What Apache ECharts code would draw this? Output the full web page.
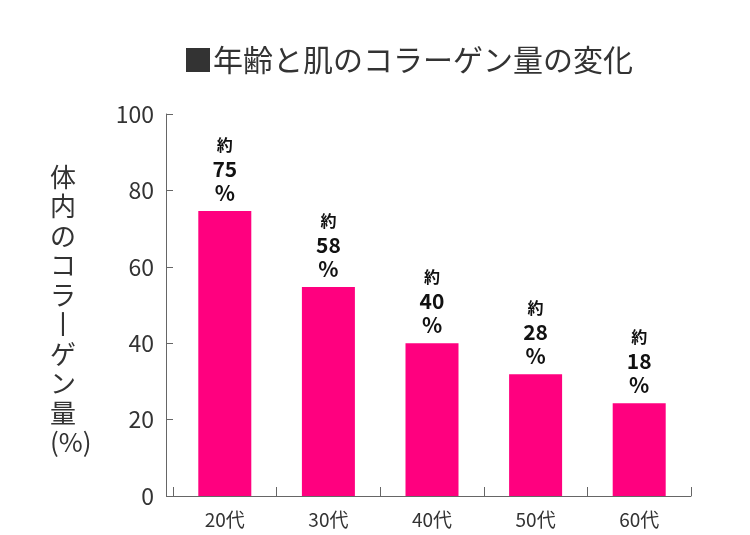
<!DOCTYPE html>
<html>
<head>
<meta charset="utf-8">
<script src="https://cdn.jsdelivr.net/npm/echarts@6/dist/echarts.min.js"></script>
<style>html,body{margin:0;background:#fff}#main{width:750px;height:535px}</style>
</head>
<body>
<div id="main"></div>
<script>
// data
const categories = ['20代', '30代', '40代', '50代', '60代']
const barValues = [74.6, 54.7, 40, 31.9, 24.3]
const barLabels = ['75', '58', '40', '28', '18']
const yTicks = [0, 20, 40, 60, 80, 100]

const font = '"Noto Sans CJK JP", sans-serif'
const chart = echarts.init(document.getElementById('main'))

chart.setOption({
    animation: false,
    title: {
        text: '■年齢と肌のコラーゲン量の変化',
        left: 403, top: 40, textAlign: 'center',
        textStyle: { fontFamily: font, fontSize: 30, fontWeight: 'normal', color: '#333' }
    },
    graphic: [{
        type: 'text', left: 50, top: 162,
        style: {
            text: '体\n内\nの\nコ\nラ\n丨\nゲ\nン\n量\n(%)',
            font: '26px ' + font, fill: '#333', lineHeight: 29.5, align: 'center', width: 50
        }
    }],
    grid: { left: 173, right: 59, top: 114, bottom: 39 },
    xAxis: {
        type: 'category', data: categories,
        axisLine: { lineStyle: { color: '#666' } },
        axisTick: { show: true, inside: true, length: 9, lineStyle: { color: '#666' } },
        axisLabel: { fontFamily: font, fontSize: 19, color: '#333', margin: 14 }
    },
    yAxis: {
        type: 'value', min: 0, max: 100, interval: 20, offset: 7,
        axisLine: { show: true, lineStyle: { color: '#666' } },
        axisTick: { show: true, inside: true, length: 7, lineStyle: { color: '#666' } },
        splitLine: { show: false },
        axisLabel: { fontFamily: font, fontSize: 23, color: '#333', margin: 12,
            formatter: v => yTicks.includes(v) ? String(v) : '' }
    },
    series: [{
        type: 'bar', data: barValues, barWidth: 53,
        itemStyle: { color: '#ff007f' },
        label: {
            show: true, position: 'top', distance: 6, align: 'center',
            formatter: p => '{a|約}\n{b|' + barLabels[p.dataIndex] + '}\n{b|%}',
            rich: {
                a: { fontFamily: font, fontSize: 16, fontWeight: 'bold', color: '#111', lineHeight: 24 },
                b: { fontFamily: font, fontSize: 21, fontWeight: 'bold', color: '#111', lineHeight: 24 }
            }
        }
    }]
})
</script>
</body>
</html>
